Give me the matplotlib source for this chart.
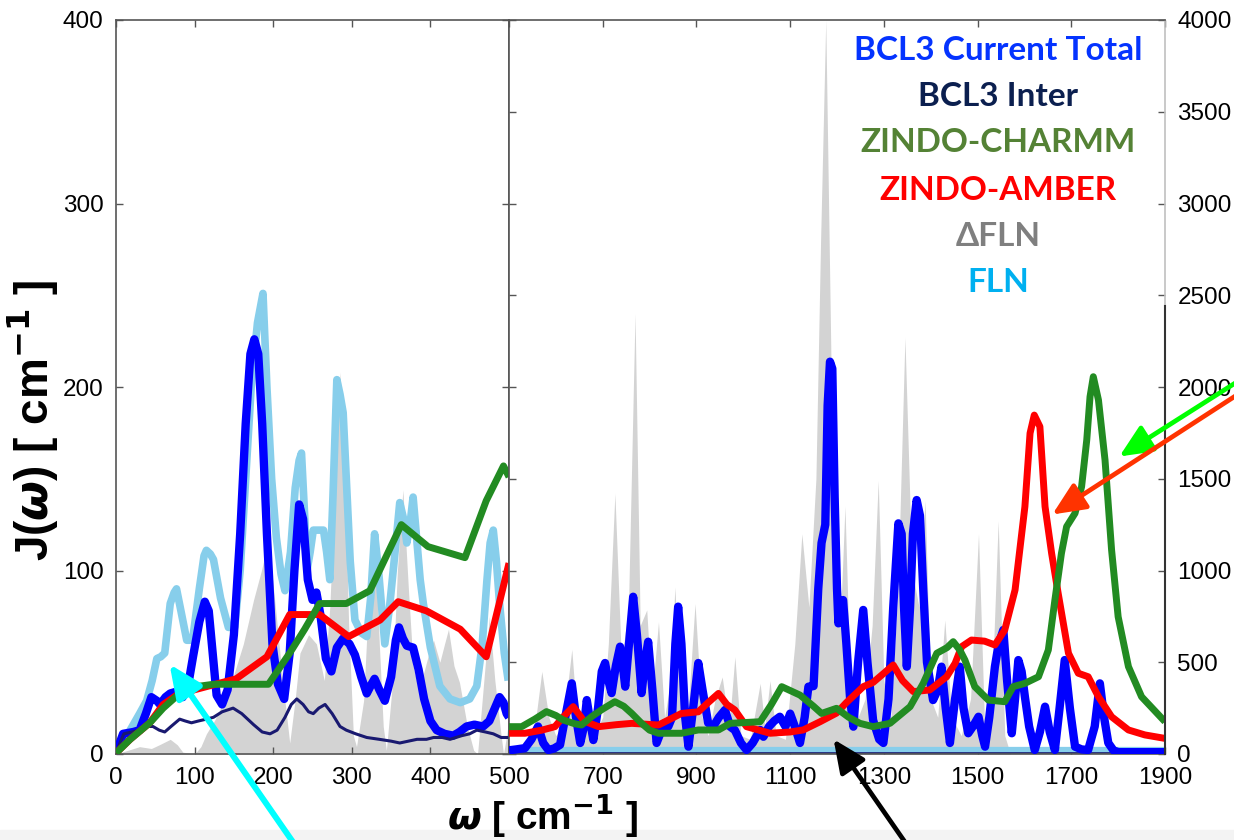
import matplotlib
matplotlib.use('Agg')
import matplotlib.pyplot as plt
from matplotlib.patches import FancyArrowPatch, Rectangle

plt.rcParams['font.family'] = ['Liberation Sans', 'DejaVu Sans']
plt.rcParams['mathtext.fontset'] = 'dejavusans'

# ---- left panel (0-500 cm-1, left axis 0-400) ----
gray_lo_x = [0, 15, 30, 45, 55, 69, 78, 85, 100, 108, 115, 125, 132, 149, 162, 175, 185, 192, 198, 204, 212, 221,
             228, 234, 245, 255, 265, 272, 280, 285, 290, 296, 302, 306, 315, 322, 329, 335, 340, 344, 352, 358, 365,
             372, 378, 385, 392, 400, 404, 412, 418, 423, 430, 437, 447, 455, 460, 468, 475, 482, 490, 493, 497, 500]
gray_lo_y = [0, 2, 4, 3, 5, 8, 5, 1, 0, 4, 11, 18, 24, 42, 60, 84, 100, 113, 100, 75, 40, 6,
             30, 55, 65, 60, 40, 80, 160, 208, 170, 70, 10, 4, 29, 90, 122, 60, 15, 2, 40, 100, 144,
             90, 48, 35, 45, 58, 62, 50, 60, 68, 48, 39, 15, 2, 0, 40, 75, 40, 10, 0, 10, 20]

fln_lo_x = [0, 10, 18, 30, 39, 46, 52, 57, 62, 69, 74, 77, 84, 90, 95, 98, 106, 112, 115, 120, 124, 133, 143, 151,
            158, 165, 172, 180, 187, 192, 198, 204, 210, 215, 222, 228, 233, 236, 240, 243, 247, 251, 258, 264, 268,
            272, 276, 281, 285, 289, 293, 298, 304, 312, 319, 324, 329, 334, 338, 342, 348, 355, 361, 366, 370, 374,
            378, 382, 387, 391, 400, 412, 425, 438, 450, 459, 466, 472, 476, 480, 484, 488, 494, 499]
fln_lo_y = [0.5, 7, 13, 22, 29, 40, 52, 53, 55, 82, 88, 90, 75, 62, 62, 64, 90, 108, 111, 109, 106, 85, 69, 69,
            100, 150, 200, 235, 251, 200, 150, 118, 98, 89, 110, 145, 160, 164, 130, 100, 110, 122, 122, 122, 110,
            95, 140, 204, 196, 186, 150, 105, 73, 66, 64, 85, 120, 100, 80, 60, 80, 110, 137, 128, 115, 125,
            140, 120, 95, 82, 58, 37, 30, 28, 30, 37, 60, 95, 115, 122, 105, 82, 55, 40]

total_lo_x = [0, 9, 22, 30, 38, 45, 52, 56, 63, 69, 77, 85, 92, 98, 106, 113, 118, 123, 128, 135, 142, 150, 158,
              165, 171, 176, 181, 186, 192, 199, 206, 214, 221, 227, 233, 238, 244, 250, 255, 260, 267, 274, 281,
              289, 297, 304, 312, 319, 325, 329, 335, 342, 350, 356, 360, 365, 370, 378, 385, 392, 400, 408, 418,
              429, 437, 446, 456, 467, 475, 482, 488, 493, 497, 500]
total_lo_y = [0.5, 11, 12, 13, 22, 31, 29, 27, 31, 33, 34, 31, 38, 53, 72, 83, 78, 55, 32, 27, 35, 65, 120,
              180, 218, 226, 218, 180, 120, 60, 38, 30, 55, 100, 136, 128, 95, 84, 88, 76, 52, 45, 58,
              63, 60, 54, 42, 33, 38, 41, 35, 29, 42, 62, 69, 63, 59, 58, 46, 30, 18, 13, 11,
              10, 12, 15, 16, 15, 18, 25, 31, 28, 22, 20]

inter_lo_x = [0, 5, 10, 20, 31, 40, 47, 55, 62, 70, 81, 88, 96, 105, 115, 124, 135, 149, 160, 175, 186, 196, 205,
              215, 223, 230, 238, 245, 251, 258, 266, 275, 285, 293, 305, 319, 335, 350, 361, 372, 383, 395, 404,
              415, 425, 440, 450, 459, 470, 480, 490, 500]
inter_lo_y = [0, 6, 11, 12, 13, 15, 15, 13, 12, 15, 19, 18, 17, 18, 19, 20, 23, 25, 22, 16, 12, 11, 13,
              20, 27, 30, 27, 23, 22, 25, 27, 22, 15, 13, 11, 9, 8, 7, 6, 7, 8, 8, 9,
              9, 8, 10, 11, 13, 12, 11, 9, 9]

charmm_lo_x = [0, 18, 43, 60, 81, 98, 124, 194, 221, 240, 259, 293, 323, 363, 397, 444, 471, 493, 500]
charmm_lo_y = [0.5, 8, 17, 25, 33, 36.5, 38, 38, 55, 68, 82, 82, 89, 125, 113, 107, 138, 157, 151]

amber_lo_x = [0, 18, 43, 60, 77, 100, 153, 192, 221, 259, 296, 336, 359, 395, 438, 471, 500]
amber_lo_y = [0.5, 8, 17, 27, 32, 35, 41, 53, 76, 76, 64, 73, 83, 78, 68, 53, 104]

# ---- right panel (500-1900 cm-1, right axis 0-4000) ----
gray_hi_x = [500, 540, 555, 570, 585, 600, 615, 634, 648, 660, 666, 680, 700, 712, 726, 740, 755, 769, 780, 794,
             805, 819, 832, 845, 854, 866, 880, 897, 912, 925, 940, 955, 970, 982, 995, 1015, 1036, 1046, 1057,
             1070, 1090, 1110, 1125, 1140, 1155, 1165, 1176, 1188, 1200, 1210, 1217, 1228, 1245, 1260, 1275,
             1288, 1300, 1315, 1330, 1345, 1360, 1375, 1388, 1400, 1415, 1430, 1445, 1465, 1485, 1502, 1515,
             1530, 1544, 1558, 1570, 1900]
gray_hi_y = [0, 50, 150, 450, 200, 100, 150, 570, 100, 200, 320, 100, 200, 600, 1420, 500, 800, 2400, 700, 785,
             300, 720, 200, 400, 910, 300, 150, 820, 200, 100, 300, 420, 150, 530, 100, 80, 385, 150, 400,
             100, 80, 600, 1200, 800, 1500, 2800, 4000, 2000, 700, 900, 1350, 400, 200, 300, 700,
             1490, 400, 200, 900, 2270, 1000, 800, 1380, 300, 200, 730, 200, 100, 300, 1200, 150,
             300, 1270, 100, 0, 0]

fln_hi_x = [500, 1900]
fln_hi_y = [20, 20]

inter_hi_x = [500, 1900]
inter_hi_y = [8, 8]

total_hi_x = [500, 515, 534, 548, 562, 573, 584, 596, 609, 620, 634, 643, 652, 660, 666, 673, 680, 690, 698, 705,
              712, 719, 728, 737, 743, 748, 756, 765, 773, 783, 790, 797, 806, 815, 824, 833, 840, 848, 855, 861,
              868, 876, 883, 893, 904, 913, 925, 936, 948, 961, 972, 982, 995, 1007, 1020, 1036, 1043, 1055, 1066,
              1078, 1090, 1100, 1110, 1121, 1131, 1139, 1150, 1160, 1167, 1175, 1180, 1185, 1190, 1195, 1200,
              1203, 1208, 1213, 1220, 1228, 1235, 1245, 1256, 1265, 1277, 1290, 1299, 1310, 1320, 1331, 1338,
              1343, 1349, 1356, 1362, 1370, 1377, 1384, 1392, 1405, 1415, 1423, 1432, 1441, 1452, 1462, 1470,
              1480, 1490, 1502, 1510, 1516, 1525, 1537, 1545, 1555, 1563, 1573, 1580, 1587, 1594, 1601, 1610,
              1622, 1633, 1644, 1654, 1665, 1675, 1686, 1697, 1708, 1722, 1736, 1750, 1761, 1770, 1779, 1790,
              1800, 1900]
total_hi_y = [20, 25, 32, 80, 150, 60, 22, 30, 50, 200, 385, 200, 60, 150, 294, 180, 76, 250, 450, 496,
              400, 332, 480, 585, 480, 367, 600, 857, 650, 332, 500, 612, 350, 60, 120, 169, 150, 200, 600, 803,
              600, 200, 40, 250, 496, 350, 169, 150, 200, 240, 149, 130, 60, 22, 60, 131, 94, 150, 180,
              203, 150, 220, 150, 60, 200, 367, 370, 900, 1150, 1250, 1900, 2138, 2100, 1400, 900,
              712, 800, 839, 600, 300, 149, 500, 785, 500, 185, 80, 60, 300, 800, 1257, 1200,
              800, 476, 800, 1200, 1384, 1300, 900, 500, 294, 350, 476, 250, 60, 300, 476, 250,
              113, 150, 203, 100, 40, 200, 476, 600, 676, 400, 113, 300, 512, 450, 312, 150,
              22, 120, 258, 120, 22, 250, 512, 250, 40, 25, 22, 150, 385, 200, 60, 20,
              10, 10]

charmm_hi_x = [500, 527, 555, 580, 600, 616, 640, 655, 676, 700, 726, 745, 762, 783, 800, 819, 868, 904, 947, 972,
               1036, 1060, 1082, 1121, 1150, 1167, 1199, 1225, 1249, 1277, 1313, 1356, 1384, 1413, 1435, 1448,
               1462, 1473, 1494, 1523, 1558, 1576, 1601, 1630, 1651, 1665, 1679, 1690, 1708, 1722, 1733, 1740,
               1747, 1758, 1772, 1786, 1800, 1822, 1850, 1900]
charmm_hi_y = [149, 149, 190, 231, 210, 185, 165, 158, 203, 245, 285, 260, 221, 167, 130, 113, 113, 131, 131, 167,
               176, 270, 367, 321, 260, 221, 249, 200, 167, 149, 167, 258, 385, 549, 580, 612,
               567, 512, 367, 294, 285, 367, 385, 421, 567, 839, 1094, 1239, 1312, 1457, 1711, 1947,
               2056, 1929, 1602, 1112, 748, 476, 312, 176]

amber_hi_x = [500, 534, 570, 598, 615, 637, 660, 691, 730, 762, 819, 868, 904, 925, 947, 965, 982, 1007, 1057,
              1100, 1128, 1164, 1199, 1220, 1256, 1277, 1300, 1320, 1340, 1363, 1398, 1434, 1452, 1466, 1487,
              1515, 1537, 1558, 1580, 1601, 1612, 1621, 1633, 1644, 1658, 1672, 1694, 1715, 1736, 1758, 1786,
              1822, 1857, 1900]
amber_hi_y = [113, 113, 130, 149, 200, 258, 180, 149, 160, 167, 158, 221, 230, 280, 330, 270, 240, 149, 113,
              120, 131, 176, 223, 280, 367, 390, 440, 485, 400, 340, 349, 421, 494, 585, 621,
              615, 594, 676, 894, 1348, 1748, 1847, 1784, 1348, 1094, 876, 549, 440, 421, 312, 203,
              131, 104, 85]

legend_labels = ['BCL3 Current Total', 'BCL3 Inter', 'ZINDO-CHARMM', 'ZINDO-AMBER', '\u0394FLN', 'FLN']
legend_colors = ['#0433ff', '#0b1f4f', '#548235', '#ff0000', '#7f7f7f', '#00b0f0']

C_GRAY, C_FLN, C_TOT, C_INT, C_CH, C_AM = '#d3d3d3', '#87ceeb', '#0000ff', '#191970', '#228b22', '#ff0000'

fig = plt.figure(figsize=(12.34, 8.4), dpi=100)
ax1 = fig.add_axes([116 / 1234, 86 / 840, 393 / 1234, 734 / 840])
ax2 = fig.add_axes([509 / 1234, 86 / 840, 656 / 1234, 734 / 840])

kw = dict(solid_joinstyle='round', solid_capstyle='butt')
ax1.fill_between(gray_lo_x, gray_lo_y, color=C_GRAY, lw=0, zorder=1)
ax1.plot(fln_lo_x, fln_lo_y, color=C_FLN, lw=5.5, zorder=2, **kw)
ax1.plot(total_lo_x, total_lo_y, color=C_TOT, lw=6, zorder=3, **kw)
ax1.plot(inter_lo_x, inter_lo_y, color=C_INT, lw=2.2, zorder=4, **kw)
ax1.plot(amber_lo_x, amber_lo_y, color=C_AM, lw=5, zorder=5, **kw)
ax1.plot(charmm_lo_x, charmm_lo_y, color=C_CH, lw=5, zorder=6, **kw)

ax2.fill_between(gray_hi_x, gray_hi_y, color=C_GRAY, lw=0, zorder=1)
ax2.plot(fln_hi_x, fln_hi_y, color=C_FLN, lw=4.5, zorder=2, **kw)
ax2.plot(inter_hi_x, inter_hi_y, color=C_INT, lw=1.2, zorder=2.5, **kw)
ax2.plot(total_hi_x, total_hi_y, color=C_TOT, lw=6, zorder=3, **kw)
ax2.plot(amber_hi_x, amber_hi_y, color=C_AM, lw=5, zorder=5, **kw)
ax2.plot(charmm_hi_x, charmm_hi_y, color=C_CH, lw=5, zorder=6, **kw)

ax1.set_xlim(0, 500)
ax1.set_ylim(0, 400)
ax1.set_xticks([0, 100, 200, 300, 400, 500])
ax1.set_xticklabels(['0', '100', '200', '300', '400', ''])
ax1.set_yticks([0, 100, 200, 300, 400])
ax1.tick_params(direction='in', top=True, right=True, length=5, width=1, colors='#555555',
                labelcolor='black', labelsize=17.5)
ax1.tick_params(axis='y', pad=9)
ax1.tick_params(axis='x', pad=9)

ax2.set_xlim(500, 1900)
ax2.set_ylim(0, 4000)
ax2.set_xticks([500, 700, 900, 1100, 1300, 1500, 1700, 1900])
ax2.set_yticks(range(0, 4001, 500))
ax2.yaxis.tick_right()
ax2.tick_params(direction='in', top=True, left=True, right=True, labelleft=False, labelright=True,
                length=5, width=1, colors='#555555', labelcolor='black', labelsize=17.5)
ax2.tick_params(axis='y', pad=9)
ax2.tick_params(axis='x', pad=9)

for ax in (ax1, ax2):
    for sp in ax.spines.values():
        sp.set_color('#555555')
        sp.set_linewidth(1.2)
ax2.spines['right'].set_color('#c0c0c0')
ax2.axvline(1900, ymin=0, ymax=0.61, color='#333333', lw=1.5, clip_on=False, zorder=10)

fig.text(33 / 1234, 1 - 420 / 840, r'J($\boldsymbol{\omega}$) [ cm$^{\mathbf{-1}}$ ]', rotation=90,
         ha='center', va='center', fontsize=33, fontweight='bold')
fig.text(543 / 1234, 1 - 839 / 840, r'$\boldsymbol{\omega}$ [ cm$^{\mathbf{-1}}$ ]',
         ha='center', va='bottom', fontsize=28, fontweight='bold')

legend_y = [50, 97, 143, 190, 237, 283]
for lab, col, yy in zip(legend_labels, legend_colors, legend_y):
    fig.text(998 / 1234, 1 - yy / 840, lab, color=col, ha='center', va='center', fontsize=24,
             fontweight='bold', family=['Lato', 'DejaVu Sans'])

fig.patches.append(Rectangle((0, 0), 1, 10 / 840, transform=fig.transFigure, color='#f3f3f3', zorder=0))

arrows = [((295, 845), (168, 662), '#00ffff', 4.3),
          ((907, 845), (832, 737), '#000000', 3.4),
          ((1240, 380), (1117, 458), '#00ff00', 3.4),
          ((1240, 393), (1050, 516), '#ff3300', 3.4)]
for (x0, y0), (x1, y1), col, lw in arrows:
    arr = FancyArrowPatch((x0 / 1234, 1 - y0 / 840), (x1 / 1234, 1 - y1 / 840), transform=fig.transFigure,
                          arrowstyle='-|>,head_length=1.0,head_width=0.45', mutation_scale=20,
                          color=col, lw=lw, zorder=20)
    fig.patches.append(arr)

fig.savefig('out.png', dpi=100, facecolor='white')
